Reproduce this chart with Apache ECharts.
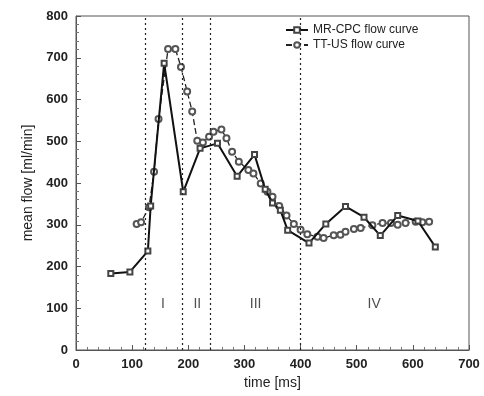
<!DOCTYPE html>
<html lang="en">
<head>
    <meta charset="UTF-8">
    <title>Mean flow curves</title>
    <script src="https://cdn.jsdelivr.net/npm/echarts@6/dist/echarts.min.js"></script>
    <style>
        html, body { margin: 0; padding: 0; background: #fff; }
        #chart { width: 484px; height: 396px; }
    </style>
</head>
<body>
    <div id="chart"></div>
    <script>
        // MR-CPC flow curve (solid, squares)
        const mrTime = [62, 96, 128, 133, 157, 191, 221, 252, 287, 318, 337, 350, 364, 377, 415, 445, 480, 513, 542, 573, 609, 640];
        const mrFlow = [183, 187, 237, 345, 687, 379, 483, 495, 416, 468, 385, 352, 335, 287, 256, 302, 344, 318, 274, 322, 309, 247];

        // TT-US flow curve (dashed, circles)
        const ttTime = [108, 116, 130, 139, 147, 164, 177, 187, 198, 207, 216, 226, 237, 245, 259, 268, 278, 290, 307, 316, 329, 341, 350, 362, 375, 388, 400, 412, 430, 441, 459, 471, 480, 495, 507, 528, 546, 561, 573, 587, 605, 617, 629];
        const ttFlow = [302, 306, 342, 427, 553, 721, 721, 678, 619, 571, 501, 497, 511, 523, 528, 507, 475, 451, 431, 423, 399, 379, 367, 345, 322, 302, 288, 277, 271, 268, 275, 276, 283, 290, 292, 299, 304, 304, 300, 304, 307, 306, 307];

        // phase boundaries and labels
        const phaseBounds = [123, 189, 239, 400];
        const phaseNames = ['I', 'II', 'III', 'IV'];
        const phaseLabelX = [155, 216, 320, 531];
        const phaseLabelY = 110;

        const zip = (xs, ys) => xs.map((x, i) => [x, ys[i]]);

        const chart = echarts.init(document.getElementById('chart'));

        const font = 'Liberation Sans, Arial, sans-serif';
        const axisText = { color: '#222', fontSize: 13, fontWeight: 'bold', fontFamily: font };

        chart.setOption({
            animation: false,
            grid: {
                left: 76, right: 15, top: 16, bottom: 46,
                show: true, borderColor: '#555', borderWidth: 1
            },
            legend: {
                orient: 'vertical',
                left: 280, top: 19,
                itemWidth: 22, itemHeight: 7, itemGap: 3,
                textStyle: { color: '#222', fontSize: 12, fontFamily: font },
                data: ['MR-CPC flow curve', 'TT-US flow curve']
            },
            xAxis: {
                type: 'value', min: 0, max: 700, interval: 100,
                name: 'time [ms]', nameLocation: 'middle', nameGap: 26,
                nameTextStyle: { color: '#222', fontSize: 14, fontFamily: font },
                axisLine: { lineStyle: { color: '#555' } },
                axisTick: { inside: true, length: 5, lineStyle: { color: '#555' } },
                minorTick: { show: true, splitNumber: 5, length: 3, lineStyle: { color: '#777' } },
                splitLine: { show: false },
                axisLabel: axisText
            },
            yAxis: {
                type: 'value', min: 0, max: 800, interval: 100,
                name: 'mean flow [ml/min]', nameLocation: 'middle', nameGap: 37,
                nameTextStyle: { color: '#222', fontSize: 14, fontFamily: font },
                axisLine: { show: true, lineStyle: { color: '#555' } },
                axisTick: { inside: true, length: 5, lineStyle: { color: '#555' } },
                minorTick: { show: true, splitNumber: 5, length: 3, lineStyle: { color: '#777' } },
                splitLine: { show: false },
                axisLabel: axisText
            },
            series: [
                {
                    name: 'MR-CPC flow curve',
                    type: 'line',
                    data: zip(mrTime, mrFlow),
                    symbol: 'emptyRect', symbolSize: 5,
                    lineStyle: { color: '#111', width: 2 },
                    itemStyle: { color: '#444', borderWidth: 1 },
                    markLine: {
                        silent: true, symbol: 'none', label: { show: false },
                        lineStyle: { color: '#222', type: [2, 3], width: 1.2 },
                        data: phaseBounds.map(x => ({ xAxis: x }))
                    },
                    z: 3
                },
                {
                    name: 'TT-US flow curve',
                    type: 'line',
                    data: zip(ttTime, ttFlow),
                    symbol: 'emptyCircle', symbolSize: 6,
                    lineStyle: { color: '#222', width: 1.3, type: [6, 3] },
                    itemStyle: { color: '#555', borderWidth: 1 },
                    z: 2
                },
                {
                    name: 'phases',
                    type: 'scatter',
                    symbolSize: 0,
                    silent: true,
                    data: phaseNames.map((n, i) => ({ value: [phaseLabelX[i], phaseLabelY], name: n })),
                    label: {
                        show: true, position: 'inside', formatter: '{b}',
                        color: '#222', fontSize: 14, fontFamily: font
                    }
                }
            ]
        });
    </script>
</body>
</html>
